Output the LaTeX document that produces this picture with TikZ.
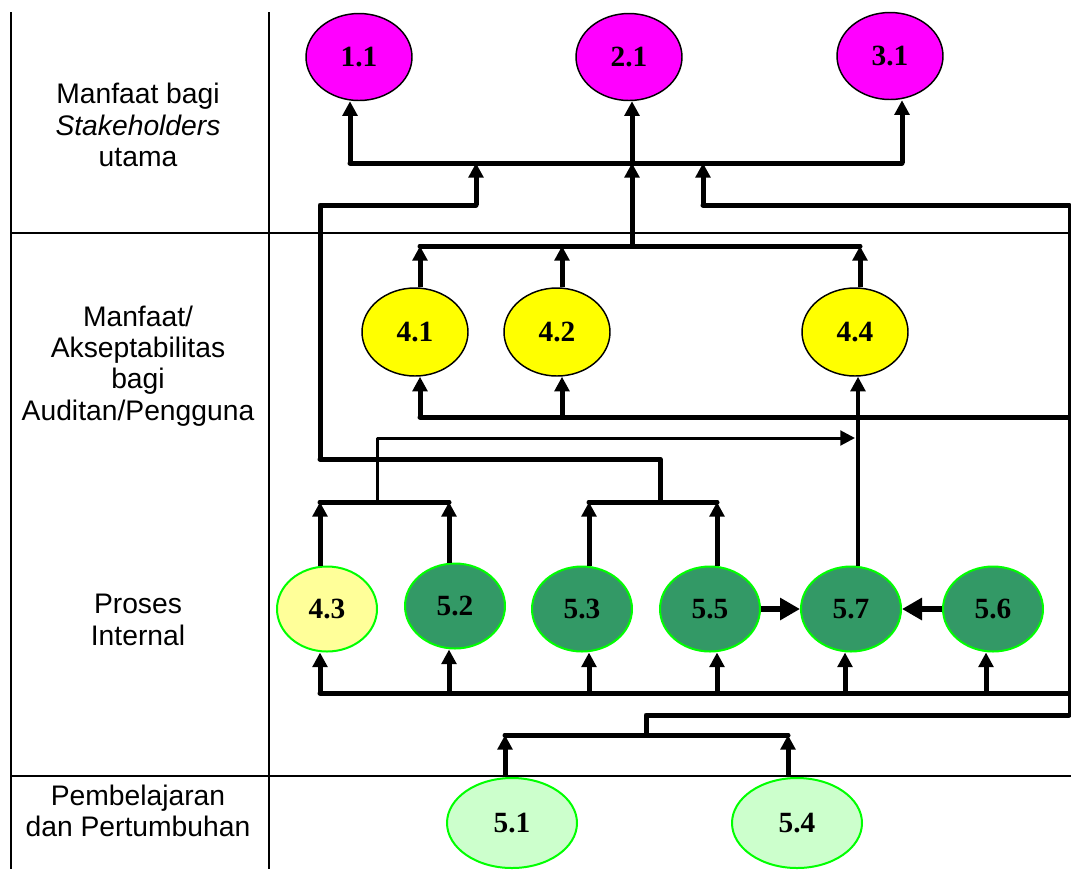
\documentclass[tikz,border=0pt]{standalone}
\usepackage{fontspec}
\setmainfont{Liberation Serif}
\newfontfamily\labelsans{Liberation Sans}
\usetikzlibrary{arrows.meta,shapes.geometric}
\definecolor{goalpink}{HTML}{FF00FF}
\definecolor{goalyellow}{HTML}{FFFF00}
\definecolor{paleyellow}{HTML}{FFFF99}
\definecolor{seagreen}{HTML}{339966}
\definecolor{brightgreen}{HTML}{00FF00}
\definecolor{palegreen}{HTML}{CCFFCC}
\begin{document}
\begin{tikzpicture}[x=0.75pt,y=-0.75pt,
  goal/.style={ellipse,inner sep=0pt,font=\bfseries\fontsize{22}{26}\selectfont},
  stake/.style={goal,draw=black,line width=1.1pt,fill=goalpink,minimum width=79.5pt,minimum height=65.25pt},
  audit/.style={goal,draw=black,line width=1.1pt,fill=goalyellow,minimum width=79.5pt,minimum height=66pt},
  proc/.style={goal,draw=brightgreen,line width=1.5pt,fill=seagreen,minimum width=75pt,minimum height=63.75pt},
  procpale/.style={proc,fill=paleyellow},
  learn/.style={goal,draw=brightgreen,line width=1.5pt,fill=palegreen,minimum width=97.5pt,minimum height=67.5pt},
  rowlabel/.style={align=center,font=\labelsans\fontsize{21.2}{23.5}\selectfont},
  grid/.style={line width=1.5pt},
  bus/.style={line width=3.75pt,line cap=round,line join=round},
  uparrow/.style={line width=3.75pt,-{Triangle[width=11pt,length=11pt]}},
  midarrow/.style={line width=3pt,-{Triangle[width=11pt,length=11pt]}},
  thinarrow/.style={line width=2.25pt,line join=round,-{Triangle[width=11pt,length=11pt]}},
  sidearrow/.style={line width=4.5pt,-{Triangle[width=16pt,length=15pt]}}
]
\useasboundingbox (0,0) rectangle (1071,869);

% table frame
\draw[grid] (11,12) -- (11,869);
\draw[grid] (269,12) -- (269,869);
\draw[grid] (11,233) -- (1069,233);
\draw[grid] (11,776) -- (1071,776);

% perspective labels
\node[rowlabel] (lab1) at (138,125) {Manfaat bagi\\\textit{Stakeholders}\\utama};
\node[rowlabel] (lab2) at (138,366) {Manfaat/\\Akseptabilitas\\bagi\\Auditan/Pengguna};
\node[rowlabel] (lab3) at (138,620) {Proses\\Internal};
\node[rowlabel] (lab4) at (138,811) {Pembelajaran\\dan Pertumbuhan};

% objectives
\node[stake] (n11) at (359,57) {1.1};
\node[stake] (n21) at (629,57) {2.1};
\node[stake] (n31) at (890,56) {3.1};
\node[audit] (n41) at (415,332) {4.1};
\node[audit] (n42) at (557,332) {4.2};
\node[audit] (n44) at (855,332) {4.4};
\node[procpale] (n43) at (327,609) {4.3};
\node[proc] (n52) at (455,606) {5.2};
\node[proc] (n53) at (582,609) {5.3};
\node[proc] (n55) at (710,609) {5.5};
\node[proc] (n57) at (851,609) {5.7};
\node[proc] (n56) at (993,609) {5.6};
\node[learn] (n51) at (512,823) {5.1};
\node[learn] (n54) at (797,823) {5.4};

% junction points
\coordinate (t11) at (350,163);
\coordinate (t21) at (632,163);
\coordinate (t31) at (902,163);
\coordinate (tL) at (476,163);
\coordinate (tR) at (703,163);
\coordinate (a41) at (420,246);
\coordinate (a42) at (562,246);
\coordinate (a44) at (860,246);
\coordinate (b41) at (420,417);
\coordinate (b42) at (562,417);
\coordinate (rtop) at (1069,205);
\coordinate (rbot) at (1069,715);
\coordinate (p43) at (320,502);
\coordinate (p52) at (449,502);
\coordinate (p53) at (589,502);
\coordinate (p55) at (717,502);
\coordinate (q43) at (320,693);
\coordinate (q52) at (449,693);
\coordinate (q53) at (589,693);
\coordinate (q55) at (717,693);
\coordinate (q57) at (845,693);
\coordinate (q56) at (986,693);
\coordinate (s51) at (505,735);
\coordinate (s54) at (788,735);
\coordinate (x44) at (858,438);

% stakeholder bus
\draw[bus] (t11) -- (t31);
\draw[uparrow] (t11) -- (t11 |- n11.south);
\draw[uparrow] (t21) -- (t21 |- n21.south);
\draw[uparrow] (t31) -- (t31 |- n31.south);
\draw[bus] (320,459) -- (320,205) -- (476,205);
\draw[uparrow] (476,205) -- (tL);
\draw[bus] (rtop) -- (703,205);
\draw[uparrow] (703,205) -- (tR);
\draw[uparrow] (632,246) -- (t21);

% auditee level buses
\draw[bus] (a41) -- (a44);
\draw[uparrow] (a41 |- n41.north) -- (a41);
\draw[uparrow] (a42 |- n42.north) -- (a42);
\draw[uparrow] (a44 |- n44.north) -- (a44);
\draw[bus] (b41) -- (1069,417);
\draw[uparrow] (b41) -- (b41 |- n41.south);
\draw[uparrow] (b42) -- (b42 |- n42.south);
\draw[midarrow] (x44 |- n57.north) -- (x44 |- n44.south);

% internal process groups
\draw[bus] (p43) -- (p52);
\draw[uparrow] (p43 |- n43.north) -- (p43);
\draw[uparrow] (p52 |- n52.north) -- (p52);
\draw[thinarrow] (377,502) -- (377,438) -- (855,438);
\draw[bus] (320,459) -- (660,459) -- (660,502);
\draw[bus] (p53) -- (p55);
\draw[uparrow] (p53 |- n53.north) -- (p53);
\draw[uparrow] (p55 |- n55.north) -- (p55);
\draw[sidearrow] (n55.east) -- (n57.west);
\draw[sidearrow] (n56.west) -- (n57.east);

% internal process feed bus
\draw[bus] (q43) -- (1069,693);
\foreach \q/\n in {q43/n43,q52/n52,q53/n53,q55/n55,q57/n57,q56/n56}
  \draw[uparrow] (\q) -- (\q |- \n.south);

% right-hand return line
\draw[line width=2.25pt] (rtop) -- (rbot);

% learning and growth
\draw[bus] (rbot) -- (646,715) -- (646,735);
\draw[bus] (s51) -- (s54);
\draw[uparrow] (s51 |- n51.north) -- (s51);
\draw[uparrow] (s54 |- n54.north) -- (s54);
\end{tikzpicture}
\end{document}
